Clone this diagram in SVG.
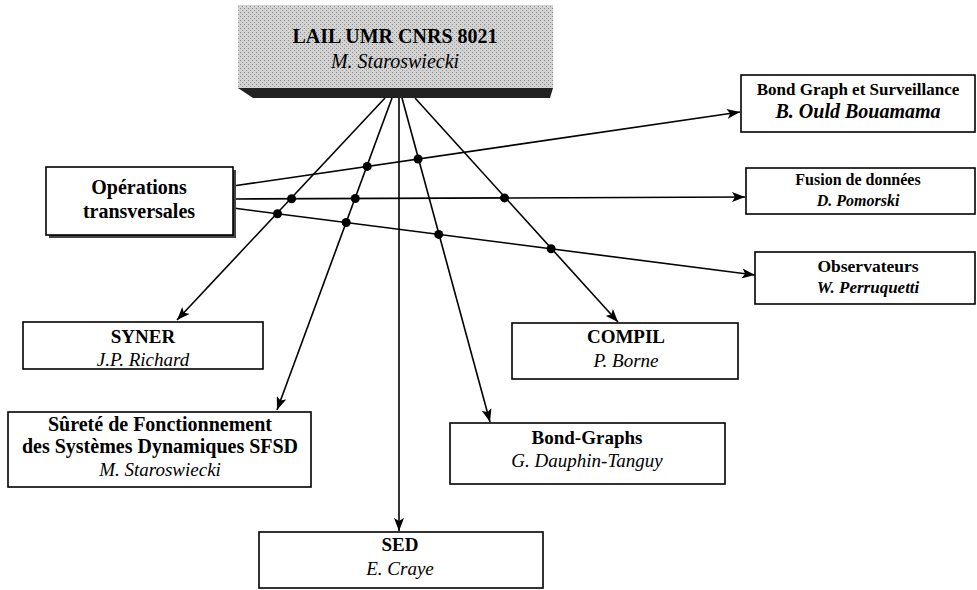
<svg xmlns="http://www.w3.org/2000/svg" width="977" height="590" viewBox="0 0 977 590">
<defs>
<style>
text{font-family:"Liberation Serif","Times New Roman",serif;fill:#000;text-anchor:middle}
.b{font-weight:bold}
.i{font-style:italic}
.bi{font-weight:bold;font-style:italic}
.box{fill:#fff;stroke:#000;stroke-width:1.6}
.ln{stroke:#000;stroke-width:1.6;fill:none;marker-end:url(#ah)}
.dot{fill:#000}
</style>
<marker id="ah" markerUnits="userSpaceOnUse" markerWidth="14" markerHeight="10" refX="13" refY="5" orient="auto">
<path d="M0,0 L13,5 L0,10 L3,5 Z" fill="#000"/>
</marker>
<pattern id="stip" width="4" height="4" patternUnits="userSpaceOnUse">
<rect width="4" height="4" fill="#d2d2d2"/>
<rect x="0" y="0" width="1" height="1" fill="#8a8a8a"/>
<rect x="2" y="2" width="1" height="1" fill="#9a9a9a"/>
</pattern>
</defs>

<g id="connectors">
<line class="ln" x1="385" y1="98" x2="177" y2="320"/>
<line class="ln" x1="392" y1="98" x2="277" y2="410"/>
<line class="ln" x1="399" y1="98" x2="399" y2="531"/>
<line class="ln" x1="402" y1="98" x2="490" y2="422"/>
<line class="ln" x1="415" y1="98" x2="618" y2="322"/>
<line class="ln" x1="233" y1="186" x2="740" y2="112"/>
<line class="ln" x1="233" y1="199" x2="745" y2="197"/>
<line class="ln" x1="233" y1="208" x2="755" y2="275"/>
<circle class="dot" cx="291.6" cy="198.8" r="4.5"/>
<circle class="dot" cx="277.5" cy="213.7" r="4.5"/>
<circle class="dot" cx="367.2" cy="166.4" r="4.5"/>
<circle class="dot" cx="355.3" cy="198.5" r="4.5"/>
<circle class="dot" cx="346.2" cy="222.5" r="4.5"/>
<circle class="dot" cx="418.1" cy="159.0" r="4.5"/>
<circle class="dot" cx="438.7" cy="234.4" r="4.5"/>
<circle class="dot" cx="504.5" cy="197.9" r="4.5"/>
<circle class="dot" cx="551.1" cy="248.8" r="4.5"/>
</g>

<g id="lail">
<rect x="238" y="5" width="315" height="84" fill="url(#stip)"/>
<polygon points="238,88 553,88 550,98 253,98" fill="#222"/>
<text class="b" x="395" y="43" font-size="20">LAIL UMR CNRS 8021</text>
<text class="i" x="395" y="68" font-size="20">M. Staroswiecki</text>
</g>

<g id="operations">
<rect x="49" y="170" width="187" height="68" fill="#444"/>
<rect class="box" x="46" y="167" width="187" height="68"/>
<text class="b" x="139" y="194" font-size="20">Opérations</text>
<text class="b" x="139" y="218" font-size="20">transversales</text>
</g>

<g id="bondsurv">
<rect class="box" x="741" y="75" width="234" height="57"/>
<text class="b" x="858" y="95" font-size="17">Bond Graph et Surveillance</text>
<text class="bi" x="858" y="118" font-size="20">B. Ould Bouamama</text>
</g>

<g id="fusion">
<rect class="box" x="746" y="168" width="229" height="46"/>
<text class="b" x="858" y="185" font-size="16">Fusion de données</text>
<text class="bi" x="858" y="206" font-size="16">D. Pomorski</text>
</g>

<g id="observateurs">
<rect class="box" x="755" y="252" width="220" height="52"/>
<text class="b" x="868" y="272" font-size="17.5">Observateurs</text>
<text class="bi" x="868" y="293" font-size="17">W. Perruquetti</text>
</g>

<g id="syner">
<rect class="box" x="23" y="322" width="240" height="47"/>
<text class="b" x="143" y="343" font-size="19">SYNER</text>
<text class="i" x="143" y="366" font-size="19">J.P. Richard</text>
</g>

<g id="compil">
<rect class="box" x="512" y="323" width="226" height="56"/>
<text class="b" x="626" y="343" font-size="19">COMPIL</text>
<text class="i" x="626" y="367" font-size="19">P. Borne</text>
</g>

<g id="sfsd">
<rect class="box" x="8" y="412" width="303" height="75"/>
<text class="b" x="160" y="431" font-size="20">Sûreté de Fonctionnement</text>
<text class="b" x="160" y="453" font-size="20">des Systèmes Dynamiques SFSD</text>
<text class="i" x="160" y="476" font-size="19">M. Staroswiecki</text>
</g>

<g id="bondgraphs">
<rect class="box" x="450" y="423" width="275" height="61"/>
<text class="b" x="587" y="444" font-size="19">Bond-Graphs</text>
<text class="i" x="587" y="467" font-size="19">G. Dauphin-Tanguy</text>
</g>

<g id="sed">
<rect class="box" x="259" y="532" width="284" height="56"/>
<text class="b" x="400" y="551" font-size="19">SED</text>
<text class="i" x="400" y="575" font-size="19">E. Craye</text>
</g>
</svg>
